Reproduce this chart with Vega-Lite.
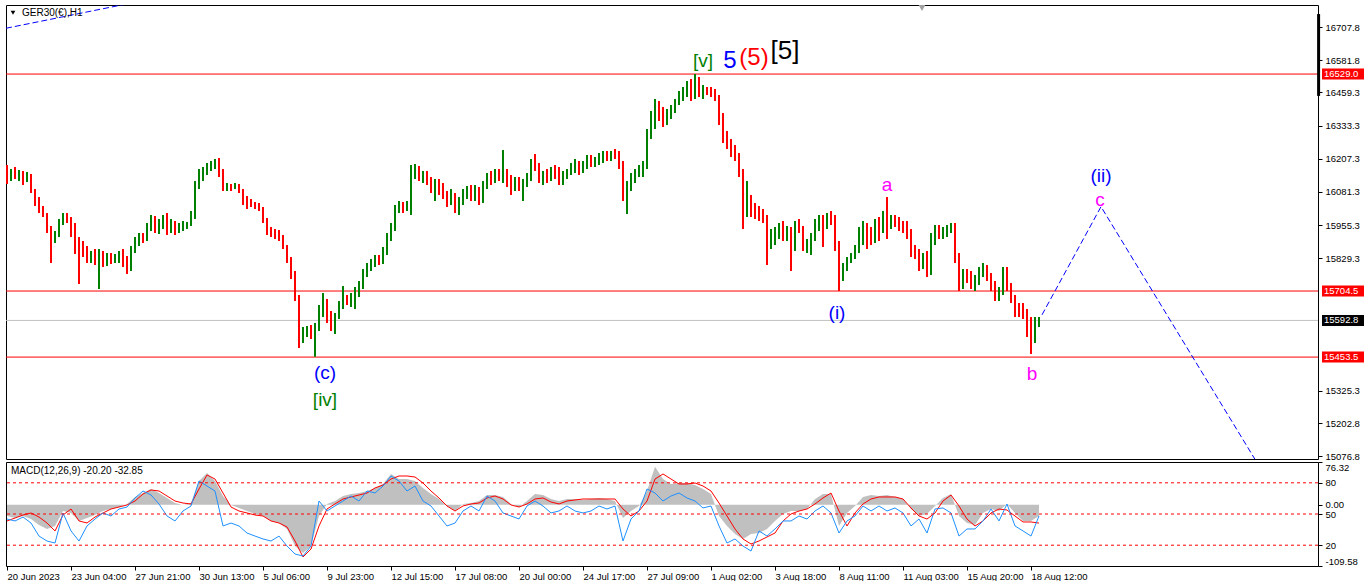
{
"$schema":"https://vega.github.io/schema/vega-lite/v6.json",
"background":"#ffffff",
"padding":{"left":4,"top":4,"right":0,"bottom":0},
"bounds":"flush",
"spacing":3,
"config":{"view":{"stroke":"#000000","strokeWidth":1},"font":"Liberation Sans","axis":{"labelFont":"Liberation Sans","labelFontSize":9.5,"labelColor":"#000000","tickColor":"#000000","domain":false,"grid":false,"tickSize":4}},
"datasets":{
"levels":[{"p":16529.0,"kind":"level"},{"p":15704.5,"kind":"level"},{"p":15453.5,"kind":"level"},{"p":15592.8,"kind":"bid"}],
"proj":[{"i":-0.25,"p":16703,"g":"up"},{"i":28.5,"p":16791,"g":"up"},{"i":40,"p":16826,"g":"up"},{"i":258.75,"p":15614,"g":"fc"},{"i":273.5,"p":16025,"g":"fc"},{"i":313,"p":15040,"g":"fc"}],
"bars":[
{"i":0,"o":16153,"h":16183,"l":16111,"c":16138},
{"i":1,"o":16138,"h":16168,"l":16123,"c":16161},
{"i":2,"o":16161,"h":16176,"l":16130,"c":16145},
{"i":3,"o":16145,"h":16164,"l":16123,"c":16153},
{"i":4,"o":16153,"h":16161,"l":16107,"c":16138},
{"i":5,"o":16138,"h":16157,"l":16119,"c":16145},
{"i":6,"o":16145,"h":16149,"l":16077,"c":16085},
{"i":7,"o":16085,"h":16092,"l":16028,"c":16039},
{"i":8,"o":16039,"h":16062,"l":16001,"c":16024},
{"i":9,"o":16024,"h":16028,"l":15986,"c":15993},
{"i":10,"o":15993,"h":16001,"l":15925,"c":15940},
{"i":11,"o":15940,"h":15952,"l":15811,"c":15910},
{"i":12,"o":15910,"h":15933,"l":15887,"c":15921},
{"i":13,"o":15921,"h":15978,"l":15910,"c":15971},
{"i":14,"o":15971,"h":16001,"l":15955,"c":15990},
{"i":15,"o":15990,"h":16001,"l":15963,"c":15978},
{"i":16,"o":15978,"h":15986,"l":15910,"c":15925},
{"i":17,"o":15925,"h":15963,"l":15845,"c":15895},
{"i":18,"o":15895,"h":15910,"l":15731,"c":15872},
{"i":19,"o":15872,"h":15895,"l":15834,"c":15857},
{"i":20,"o":15857,"h":15876,"l":15811,"c":15834},
{"i":21,"o":15834,"h":15857,"l":15811,"c":15849},
{"i":22,"o":15849,"h":15864,"l":15803,"c":15826},
{"i":23,"o":15826,"h":15864,"l":15712,"c":15834},
{"i":24,"o":15834,"h":15857,"l":15796,"c":15819},
{"i":25,"o":15819,"h":15849,"l":15800,"c":15838},
{"i":26,"o":15838,"h":15849,"l":15807,"c":15826},
{"i":27,"o":15826,"h":15845,"l":15811,"c":15834},
{"i":28,"o":15834,"h":15857,"l":15811,"c":15841},
{"i":29,"o":15841,"h":15864,"l":15796,"c":15811},
{"i":30,"o":15811,"h":15838,"l":15769,"c":15788},
{"i":31,"o":15788,"h":15876,"l":15781,"c":15864},
{"i":32,"o":15864,"h":15910,"l":15849,"c":15895},
{"i":33,"o":15895,"h":15925,"l":15876,"c":15910},
{"i":34,"o":15910,"h":15925,"l":15887,"c":15902},
{"i":35,"o":15902,"h":15963,"l":15895,"c":15952},
{"i":36,"o":15952,"h":15993,"l":15933,"c":15978},
{"i":37,"o":15978,"h":15990,"l":15925,"c":15940},
{"i":38,"o":15940,"h":15978,"l":15921,"c":15963},
{"i":39,"o":15963,"h":15993,"l":15940,"c":15978},
{"i":40,"o":15978,"h":16001,"l":15917,"c":15933},
{"i":41,"o":15933,"h":15978,"l":15925,"c":15963},
{"i":42,"o":15963,"h":15971,"l":15917,"c":15933},
{"i":43,"o":15933,"h":15963,"l":15925,"c":15948},
{"i":44,"o":15948,"h":15971,"l":15933,"c":15955},
{"i":45,"o":15955,"h":15967,"l":15940,"c":15963},
{"i":46,"o":15963,"h":16009,"l":15952,"c":15993},
{"i":47,"o":15993,"h":16123,"l":15978,"c":16107},
{"i":48,"o":16107,"h":16168,"l":16092,"c":16153},
{"i":49,"o":16153,"h":16176,"l":16123,"c":16161},
{"i":50,"o":16161,"h":16191,"l":16145,"c":16176},
{"i":51,"o":16176,"h":16199,"l":16161,"c":16183},
{"i":52,"o":16183,"h":16206,"l":16168,"c":16191},
{"i":53,"o":16191,"h":16210,"l":16138,"c":16153},
{"i":54,"o":16153,"h":16168,"l":16085,"c":16100},
{"i":55,"o":16100,"h":16115,"l":16085,"c":16107},
{"i":56,"o":16107,"h":16111,"l":16085,"c":16100},
{"i":57,"o":16100,"h":16115,"l":16092,"c":16107},
{"i":58,"o":16107,"h":16111,"l":16077,"c":16085},
{"i":59,"o":16085,"h":16092,"l":16031,"c":16054},
{"i":60,"o":16054,"h":16066,"l":16016,"c":16039},
{"i":61,"o":16039,"h":16054,"l":16024,"c":16035},
{"i":62,"o":16035,"h":16043,"l":16016,"c":16028},
{"i":63,"o":16028,"h":16039,"l":16009,"c":16016},
{"i":64,"o":16016,"h":16024,"l":15963,"c":15978},
{"i":65,"o":15978,"h":15982,"l":15917,"c":15933},
{"i":66,"o":15933,"h":15948,"l":15910,"c":15925},
{"i":67,"o":15925,"h":15940,"l":15902,"c":15917},
{"i":68,"o":15917,"h":15936,"l":15895,"c":15910},
{"i":69,"o":15910,"h":15917,"l":15864,"c":15872},
{"i":70,"o":15872,"h":15879,"l":15811,"c":15826},
{"i":71,"o":15826,"h":15834,"l":15750,"c":15773},
{"i":72,"o":15773,"h":15781,"l":15667,"c":15682},
{"i":73,"o":15682,"h":15689,"l":15488,"c":15522},
{"i":74,"o":15522,"h":15568,"l":15507,"c":15553},
{"i":75,"o":15553,"h":15572,"l":15530,"c":15560},
{"i":76,"o":15560,"h":15575,"l":15522,"c":15537},
{"i":77,"o":15537,"h":15583,"l":15455,"c":15568},
{"i":78,"o":15568,"h":15651,"l":15553,"c":15636},
{"i":79,"o":15636,"h":15697,"l":15606,"c":15651},
{"i":80,"o":15651,"h":15674,"l":15583,"c":15598},
{"i":81,"o":15598,"h":15629,"l":15553,"c":15568},
{"i":82,"o":15568,"h":15621,"l":15541,"c":15610},
{"i":83,"o":15610,"h":15667,"l":15598,"c":15651},
{"i":84,"o":15651,"h":15724,"l":15636,"c":15674},
{"i":85,"o":15674,"h":15689,"l":15651,"c":15667},
{"i":86,"o":15667,"h":15697,"l":15644,"c":15682},
{"i":87,"o":15682,"h":15720,"l":15636,"c":15705},
{"i":88,"o":15705,"h":15743,"l":15682,"c":15727},
{"i":89,"o":15727,"h":15788,"l":15712,"c":15773},
{"i":90,"o":15773,"h":15811,"l":15758,"c":15796},
{"i":91,"o":15796,"h":15826,"l":15781,"c":15811},
{"i":92,"o":15811,"h":15841,"l":15796,"c":15826},
{"i":93,"o":15826,"h":15841,"l":15803,"c":15819},
{"i":94,"o":15819,"h":15872,"l":15807,"c":15857},
{"i":95,"o":15857,"h":15925,"l":15841,"c":15910},
{"i":96,"o":15910,"h":15963,"l":15895,"c":15948},
{"i":97,"o":15948,"h":16031,"l":15933,"c":16016},
{"i":98,"o":16016,"h":16047,"l":16001,"c":16031},
{"i":99,"o":16031,"h":16043,"l":16001,"c":16020},
{"i":100,"o":16020,"h":16047,"l":16009,"c":16035},
{"i":101,"o":16035,"h":16183,"l":15993,"c":16153},
{"i":102,"o":16153,"h":16187,"l":16130,"c":16168},
{"i":103,"o":16168,"h":16180,"l":16123,"c":16138},
{"i":104,"o":16138,"h":16161,"l":16115,"c":16145},
{"i":105,"o":16145,"h":16161,"l":16107,"c":16123},
{"i":106,"o":16123,"h":16138,"l":16077,"c":16092},
{"i":107,"o":16092,"h":16130,"l":16047,"c":16107},
{"i":108,"o":16107,"h":16130,"l":16069,"c":16085},
{"i":109,"o":16085,"h":16115,"l":16054,"c":16069},
{"i":110,"o":16069,"h":16085,"l":16024,"c":16047},
{"i":111,"o":16047,"h":16092,"l":16031,"c":16062},
{"i":112,"o":16062,"h":16077,"l":16001,"c":16024},
{"i":113,"o":16024,"h":16062,"l":15993,"c":16047},
{"i":114,"o":16047,"h":16092,"l":16031,"c":16077},
{"i":115,"o":16077,"h":16104,"l":16054,"c":16092},
{"i":116,"o":16092,"h":16107,"l":16047,"c":16062},
{"i":117,"o":16062,"h":16107,"l":16047,"c":16092},
{"i":118,"o":16092,"h":16100,"l":16031,"c":16054},
{"i":119,"o":16054,"h":16123,"l":16039,"c":16107},
{"i":120,"o":16107,"h":16153,"l":16092,"c":16138},
{"i":121,"o":16138,"h":16161,"l":16107,"c":16130},
{"i":122,"o":16130,"h":16168,"l":16115,"c":16145},
{"i":123,"o":16145,"h":16168,"l":16123,"c":16138},
{"i":124,"o":16138,"h":16240,"l":16115,"c":16153},
{"i":125,"o":16153,"h":16168,"l":16100,"c":16123},
{"i":126,"o":16123,"h":16145,"l":16069,"c":16107},
{"i":127,"o":16107,"h":16138,"l":16085,"c":16123},
{"i":128,"o":16123,"h":16138,"l":16085,"c":16100},
{"i":129,"o":16100,"h":16130,"l":16047,"c":16115},
{"i":130,"o":16115,"h":16153,"l":16100,"c":16138},
{"i":131,"o":16138,"h":16206,"l":16123,"c":16191},
{"i":132,"o":16191,"h":16225,"l":16161,"c":16176},
{"i":133,"o":16176,"h":16191,"l":16115,"c":16130},
{"i":134,"o":16130,"h":16161,"l":16107,"c":16145},
{"i":135,"o":16145,"h":16168,"l":16115,"c":16138},
{"i":136,"o":16138,"h":16176,"l":16123,"c":16161},
{"i":137,"o":16161,"h":16183,"l":16130,"c":16145},
{"i":138,"o":16145,"h":16176,"l":16107,"c":16123},
{"i":139,"o":16123,"h":16161,"l":16107,"c":16153},
{"i":140,"o":16153,"h":16168,"l":16130,"c":16161},
{"i":141,"o":16161,"h":16191,"l":16145,"c":16176},
{"i":142,"o":16176,"h":16206,"l":16153,"c":16183},
{"i":143,"o":16183,"h":16199,"l":16145,"c":16168},
{"i":144,"o":16168,"h":16199,"l":16153,"c":16191},
{"i":145,"o":16191,"h":16221,"l":16168,"c":16206},
{"i":146,"o":16206,"h":16221,"l":16176,"c":16191},
{"i":147,"o":16191,"h":16214,"l":16176,"c":16206},
{"i":148,"o":16206,"h":16229,"l":16183,"c":16214},
{"i":149,"o":16214,"h":16237,"l":16191,"c":16221},
{"i":150,"o":16221,"h":16237,"l":16199,"c":16214},
{"i":151,"o":16214,"h":16237,"l":16199,"c":16229},
{"i":152,"o":16229,"h":16244,"l":16206,"c":16221},
{"i":153,"o":16221,"h":16237,"l":16168,"c":16183},
{"i":154,"o":16183,"h":16199,"l":16047,"c":16077},
{"i":155,"o":16077,"h":16123,"l":15997,"c":16100},
{"i":156,"o":16100,"h":16153,"l":16085,"c":16138},
{"i":157,"o":16138,"h":16168,"l":16115,"c":16153},
{"i":158,"o":16153,"h":16183,"l":16138,"c":16161},
{"i":159,"o":16161,"h":16199,"l":16138,"c":16183},
{"i":160,"o":16183,"h":16320,"l":16168,"c":16297},
{"i":161,"o":16297,"h":16389,"l":16282,"c":16366},
{"i":162,"o":16366,"h":16434,"l":16320,"c":16411},
{"i":163,"o":16411,"h":16427,"l":16351,"c":16381},
{"i":164,"o":16381,"h":16404,"l":16328,"c":16351},
{"i":165,"o":16351,"h":16396,"l":16335,"c":16381},
{"i":166,"o":16381,"h":16411,"l":16358,"c":16396},
{"i":167,"o":16396,"h":16434,"l":16381,"c":16427},
{"i":168,"o":16427,"h":16465,"l":16411,"c":16449},
{"i":169,"o":16449,"h":16480,"l":16427,"c":16465},
{"i":170,"o":16465,"h":16503,"l":16442,"c":16487},
{"i":171,"o":16487,"h":16510,"l":16427,"c":16442},
{"i":172,"o":16442,"h":16529,"l":16434,"c":16503},
{"i":173,"o":16503,"h":16518,"l":16442,"c":16457},
{"i":174,"o":16457,"h":16487,"l":16434,"c":16472},
{"i":175,"o":16472,"h":16480,"l":16449,"c":16465},
{"i":176,"o":16465,"h":16480,"l":16442,"c":16457},
{"i":177,"o":16457,"h":16472,"l":16427,"c":16442},
{"i":178,"o":16442,"h":16449,"l":16335,"c":16358},
{"i":179,"o":16358,"h":16381,"l":16267,"c":16290},
{"i":180,"o":16290,"h":16313,"l":16244,"c":16275},
{"i":181,"o":16275,"h":16282,"l":16214,"c":16237},
{"i":182,"o":16237,"h":16259,"l":16199,"c":16214},
{"i":183,"o":16214,"h":16229,"l":16138,"c":16161},
{"i":184,"o":16161,"h":16168,"l":15940,"c":16001},
{"i":185,"o":16001,"h":16123,"l":15986,"c":16062},
{"i":186,"o":16062,"h":16069,"l":15986,"c":16016},
{"i":187,"o":16016,"h":16039,"l":15978,"c":16001},
{"i":188,"o":16001,"h":16028,"l":15971,"c":15993},
{"i":189,"o":15993,"h":16016,"l":15963,"c":15978},
{"i":190,"o":15978,"h":15993,"l":15803,"c":15895},
{"i":191,"o":15895,"h":15940,"l":15864,"c":15910},
{"i":192,"o":15910,"h":15948,"l":15879,"c":15925},
{"i":193,"o":15925,"h":15963,"l":15902,"c":15948},
{"i":194,"o":15948,"h":15971,"l":15895,"c":15917},
{"i":195,"o":15917,"h":15952,"l":15895,"c":15933},
{"i":196,"o":15933,"h":15948,"l":15781,"c":15879},
{"i":197,"o":15879,"h":15971,"l":15857,"c":15948},
{"i":198,"o":15948,"h":15978,"l":15925,"c":15940},
{"i":199,"o":15940,"h":15952,"l":15857,"c":15879},
{"i":200,"o":15879,"h":15902,"l":15849,"c":15887},
{"i":201,"o":15887,"h":15925,"l":15841,"c":15910},
{"i":202,"o":15910,"h":15978,"l":15895,"c":15963},
{"i":203,"o":15963,"h":15993,"l":15933,"c":15971},
{"i":204,"o":15971,"h":15993,"l":15872,"c":15955},
{"i":205,"o":15955,"h":16001,"l":15940,"c":15986},
{"i":206,"o":15986,"h":16009,"l":15955,"c":15978},
{"i":207,"o":15978,"h":15993,"l":15857,"c":15879},
{"i":208,"o":15879,"h":15895,"l":15705,"c":15758},
{"i":209,"o":15758,"h":15811,"l":15743,"c":15796},
{"i":210,"o":15796,"h":15834,"l":15781,"c":15826},
{"i":211,"o":15826,"h":15849,"l":15811,"c":15841},
{"i":212,"o":15841,"h":15879,"l":15826,"c":15864},
{"i":213,"o":15864,"h":15948,"l":15849,"c":15933},
{"i":214,"o":15933,"h":15971,"l":15879,"c":15940},
{"i":215,"o":15940,"h":15963,"l":15864,"c":15917},
{"i":216,"o":15917,"h":15948,"l":15879,"c":15910},
{"i":217,"o":15910,"h":15978,"l":15887,"c":15955},
{"i":218,"o":15955,"h":15986,"l":15895,"c":15940},
{"i":219,"o":15940,"h":16009,"l":15925,"c":15993},
{"i":220,"o":15993,"h":16062,"l":15902,"c":15963},
{"i":221,"o":15963,"h":15993,"l":15940,"c":15978},
{"i":222,"o":15978,"h":15993,"l":15948,"c":15963},
{"i":223,"o":15963,"h":15986,"l":15933,"c":15955},
{"i":224,"o":15955,"h":15971,"l":15925,"c":15948},
{"i":225,"o":15948,"h":15971,"l":15902,"c":15917},
{"i":226,"o":15917,"h":15940,"l":15834,"c":15857},
{"i":227,"o":15857,"h":15879,"l":15826,"c":15849},
{"i":228,"o":15849,"h":15864,"l":15781,"c":15811},
{"i":229,"o":15811,"h":15849,"l":15788,"c":15834},
{"i":230,"o":15834,"h":15857,"l":15758,"c":15781},
{"i":231,"o":15781,"h":15925,"l":15765,"c":15910},
{"i":232,"o":15910,"h":15955,"l":15879,"c":15940},
{"i":233,"o":15940,"h":15955,"l":15902,"c":15917},
{"i":234,"o":15917,"h":15948,"l":15902,"c":15933},
{"i":235,"o":15933,"h":15955,"l":15910,"c":15940},
{"i":236,"o":15940,"h":15963,"l":15925,"c":15948},
{"i":237,"o":15948,"h":15963,"l":15811,"c":15826},
{"i":238,"o":15826,"h":15849,"l":15705,"c":15735},
{"i":239,"o":15735,"h":15788,"l":15712,"c":15773},
{"i":240,"o":15773,"h":15788,"l":15735,"c":15750},
{"i":241,"o":15750,"h":15781,"l":15712,"c":15727},
{"i":242,"o":15727,"h":15765,"l":15705,"c":15743},
{"i":243,"o":15743,"h":15796,"l":15727,"c":15781},
{"i":244,"o":15781,"h":15811,"l":15758,"c":15796},
{"i":245,"o":15796,"h":15803,"l":15743,"c":15758},
{"i":246,"o":15758,"h":15773,"l":15705,"c":15720},
{"i":247,"o":15720,"h":15743,"l":15667,"c":15689},
{"i":248,"o":15689,"h":15720,"l":15667,"c":15705},
{"i":249,"o":15705,"h":15796,"l":15689,"c":15773},
{"i":250,"o":15773,"h":15796,"l":15705,"c":15720},
{"i":251,"o":15720,"h":15735,"l":15659,"c":15674},
{"i":252,"o":15674,"h":15689,"l":15606,"c":15636},
{"i":253,"o":15636,"h":15659,"l":15606,"c":15629},
{"i":254,"o":15629,"h":15659,"l":15598,"c":15621},
{"i":255,"o":15621,"h":15636,"l":15530,"c":15560},
{"i":256,"o":15560,"h":15606,"l":15465,"c":15515},
{"i":257,"o":15515,"h":15606,"l":15507,"c":15583},
{"i":258,"o":15583,"h":15606,"l":15568,"c":15592.8}
],
"ind":[
{"i":0,"m":-20.2,"s":-29.1,"b":45.2},{"i":2,"m":-23.8,"s":-23.8,"b":43.3},{"i":4,"m":-20.2,"s":-18.4,"b":47.1},{"i":6,"m":-25.6,"s":-14.8,"b":41.3},{"i":8,"m":-36.3,"s":-22.0,"b":28.8},{"i":10,"m":-43.4,"s":-32.7,"b":24.0},{"i":12,"m":-38.1,"s":-47.0,"b":22.1},{"i":14,"m":-11.3,"s":-18.4,"b":51.0},{"i":16,"m":-14.8,"s":-7.7,"b":33.7},{"i":18,"m":-29.1,"s":-29.1,"b":24.0},
{"i":20,"m":-23.8,"s":-32.7,"b":38.5},{"i":22,"m":-18.4,"s":-22.0,"b":45.2},{"i":24,"m":-11.3,"s":-14.8,"b":51.0},{"i":26,"m":-7.7,"s":-7.7,"b":48.1},{"i":28,"m":-4.1,"s":-4.1,"b":54.8},{"i":30,"m":1.3,"s":-0.5,"b":56.7},{"i":32,"m":13.8,"s":6.6,"b":65.4},{"i":34,"m":20.9,"s":19.1,"b":72.1},{"i":36,"m":28.1,"s":26.3,"b":68.3},{"i":38,"m":20.9,"s":24.5,"b":59.6},
{"i":40,"m":12.0,"s":15.6,"b":48.1},{"i":42,"m":3.0,"s":6.6,"b":43.3},{"i":44,"m":-0.5,"s":3.0,"b":52.9},{"i":46,"m":3.0,"s":1.3,"b":57.7},{"i":48,"m":42.4,"s":28.1,"b":81.7},{"i":50,"m":56.7,"s":53.1,"b":76.9},{"i":52,"m":42.4,"s":45.9,"b":72.1},{"i":54,"m":15.6,"s":20.9,"b":38.5},{"i":56,"m":-0.5,"s":-4.1,"b":41.3},{"i":58,"m":-5.9,"s":-11.3,"b":38.5},
{"i":60,"m":-11.3,"s":-14.8,"b":31.7},{"i":62,"m":-16.6,"s":-18.4,"b":28.8},{"i":64,"m":-20.2,"s":-20.2,"b":26.0},{"i":66,"m":-29.1,"s":-29.1,"b":24.0},{"i":68,"m":-32.7,"s":-32.7,"b":28.8},{"i":70,"m":-43.4,"s":-39.9,"b":19.2},{"i":72,"m":-73.8,"s":-64.9,"b":11.5},{"i":74,"m":-86.3,"s":-93.5,"b":9.6},{"i":76,"m":-73.8,"s":-79.2,"b":19.2},{"i":78,"m":-20.2,"s":-38.1,"b":62.5},
{"i":80,"m":1.3,"s":-7.7,"b":52.9},{"i":82,"m":6.6,"s":1.3,"b":57.7},{"i":84,"m":15.6,"s":10.2,"b":62.5},{"i":86,"m":19.1,"s":13.8,"b":67.3},{"i":88,"m":20.9,"s":17.3,"b":62.5},{"i":90,"m":24.5,"s":20.9,"b":72.1},{"i":92,"m":29.9,"s":29.9,"b":70.2},{"i":94,"m":37.0,"s":35.2,"b":76.9},{"i":96,"m":54.9,"s":45.9,"b":86.5},{"i":98,"m":45.9,"s":51.3,"b":81.7},
{"i":100,"m":45.9,"s":51.3,"b":72.1},{"i":102,"m":42.4,"s":49.5,"b":76.9},{"i":104,"m":29.9,"s":38.8,"b":62.5},{"i":106,"m":19.1,"s":24.5,"b":57.7},{"i":108,"m":10.2,"s":12.0,"b":48.1},{"i":110,"m":-2.3,"s":-2.3,"b":38.5},{"i":112,"m":-11.3,"s":-11.3,"b":41.3},{"i":114,"m":1.3,"s":-2.3,"b":52.9},{"i":116,"m":3.0,"s":1.3,"b":57.7},{"i":118,"m":6.6,"s":3.0,"b":52.9},
{"i":120,"m":17.3,"s":12.0,"b":67.3},{"i":122,"m":17.3,"s":15.6,"b":62.5},{"i":124,"m":13.8,"s":10.2,"b":51.0},{"i":126,"m":1.3,"s":-0.5,"b":48.1},{"i":128,"m":-4.1,"s":-4.1,"b":45.2},{"i":130,"m":6.6,"s":1.3,"b":57.7},{"i":132,"m":19.1,"s":10.2,"b":62.5},{"i":134,"m":17.3,"s":12.0,"b":57.7},{"i":136,"m":10.2,"s":4.8,"b":51.0},{"i":138,"m":6.6,"s":1.3,"b":52.9},
{"i":140,"m":10.2,"s":6.6,"b":57.7},{"i":142,"m":10.2,"s":8.4,"b":52.9},{"i":144,"m":8.4,"s":10.2,"b":51.0},{"i":146,"m":10.2,"s":10.2,"b":52.9},{"i":148,"m":12.0,"s":10.2,"b":57.7},{"i":150,"m":10.2,"s":10.2,"b":54.8},{"i":152,"m":6.6,"s":10.2,"b":57.7},{"i":154,"m":-23.8,"s":-7.7,"b":24.0},{"i":156,"m":-11.3,"s":-20.2,"b":45.2},{"i":158,"m":-2.3,"s":-11.3,"b":52.9},
{"i":160,"m":24.5,"s":6.6,"b":74.0},{"i":162,"m":68.0,"s":45.9,"b":70.2},{"i":164,"m":45.9,"s":54.9,"b":62.5},{"i":166,"m":37.0,"s":45.9,"b":67.3},{"i":168,"m":38.8,"s":37.0,"b":70.2},{"i":170,"m":38.8,"s":37.0,"b":65.4},{"i":172,"m":35.2,"s":38.8,"b":62.5},{"i":174,"m":28.1,"s":33.4,"b":55.8},{"i":176,"m":19.1,"s":24.5,"b":57.7},{"i":178,"m":-20.2,"s":3.0,"b":38.5},
{"i":180,"m":-38.1,"s":-20.2,"b":22.1},{"i":182,"m":-52.4,"s":-43.4,"b":26.0},{"i":184,"m":-61.3,"s":-61.3,"b":19.2},{"i":186,"m":-52.4,"s":-70.2,"b":14.4},{"i":188,"m":-50.6,"s":-64.9,"b":33.7},{"i":190,"m":-43.4,"s":-57.7,"b":28.8},{"i":192,"m":-29.1,"s":-50.6,"b":35.6},{"i":194,"m":-16.6,"s":-29.1,"b":43.3},{"i":196,"m":-11.3,"s":-16.6,"b":43.3},{"i":198,"m":-11.3,"s":-11.3,"b":48.1},
{"i":200,"m":-7.7,"s":-7.7,"b":45.2},{"i":202,"m":10.2,"s":1.3,"b":52.9},{"i":204,"m":19.1,"s":12.0,"b":57.7},{"i":206,"m":19.1,"s":20.9,"b":51.0},{"i":208,"m":-38.1,"s":-11.3,"b":31.7},{"i":210,"m":-14.8,"s":-38.1,"b":43.3},{"i":212,"m":-2.3,"s":-14.8,"b":48.1},{"i":214,"m":13.8,"s":1.3,"b":57.7},{"i":216,"m":17.3,"s":10.2,"b":52.9},{"i":218,"m":15.6,"s":13.8,"b":57.7},
{"i":220,"m":17.3,"s":13.8,"b":52.9},{"i":222,"m":13.8,"s":13.8,"b":55.8},{"i":224,"m":10.2,"s":10.2,"b":51.0},{"i":226,"m":-7.7,"s":-5.9,"b":38.5},{"i":228,"m":-20.2,"s":-20.2,"b":45.2},{"i":230,"m":-16.6,"s":-25.6,"b":31.7},{"i":232,"m":-2.3,"s":-14.8,"b":54.8},{"i":234,"m":12.0,"s":6.6,"b":55.8},{"i":236,"m":19.1,"s":17.3,"b":51.0},{"i":238,"m":-20.2,"s":-2.3,"b":28.8},
{"i":240,"m":-32.7,"s":-25.6,"b":35.6},{"i":242,"m":-36.3,"s":-38.1,"b":35.6},{"i":244,"m":-14.8,"s":-29.1,"b":43.3},{"i":246,"m":-7.7,"s":-14.8,"b":54.8},{"i":248,"m":-11.3,"s":-7.7,"b":43.3},{"i":250,"m":1.3,"s":-9.5,"b":59.6},{"i":252,"m":-14.8,"s":-20.2,"b":38.5},{"i":254,"m":-29.1,"s":-30.9,"b":33.7},{"i":256,"m":-29.1,"s":-30.9,"b":28.8},{"i":258,"m":-20.2,"s":-32.85,"b":48.1}
]
},
"vconcat":[
{
"width":1312,"height":454,
"layer":[
{"data":{"name":"levels"},"mark":{"type":"rule","strokeWidth":1},
 "encoding":{"y":{"field":"p","type":"quantitative","title":null,"scale":{"domain":[15066.2,16791.4],"nice":false,"zero":false,"padding":0},
   "axis":{"orient":"right","title":null,"values":[16707.8,16581.8,16459.3,16333.3,16207.3,16081.3,15955.3,15829.3,15325.3,15202.8,15076.8],"format":".1f","labelPadding":3}},
  "color":{"condition":{"test":"datum.kind==='bid'","value":"#c0c0c0"},"value":"#ff0000"}}},
{"data":{"name":"proj"},"mark":{"type":"line","color":"#0000ff","strokeWidth":1,"strokeDash":[6,3],"clip":true},
 "encoding":{"x":{"field":"i","type":"quantitative","title":null,"scale":{"domain":[-0.25,327.75],"nice":false,"zero":false,"padding":0},"axis":null},
  "y":{"field":"p","type":"quantitative","title":null},"detail":{"field":"g"}}},
{"data":{"name":"bars"},"mark":{"type":"rule","strokeWidth":2},
 "encoding":{"x":{"field":"i","type":"quantitative","axis":null},"y":{"field":"h","type":"quantitative","title":null},"y2":{"field":"l"},
  "color":{"condition":{"test":"datum.c>=datum.o","value":"#008000"},"value":"#ff0000"}}},
{"data":{"values":[{"t":"[v]","i":174,"p":16579,"deg":"minute"},{"t":"(c)","i":79.5,"p":15393,"deg":"minor"},{"t":"[iv]","i":79.5,"p":15290,"deg":"minute"},{"t":"(i)","i":207.5,"p":15621,"deg":"minor"},{"t":"(ii)","i":273.5,"p":16142,"deg":"minor"},{"t":"a","i":220,"p":16107,"deg":"minuette"},{"t":"b","i":256.25,"p":15389,"deg":"minuette"},{"t":"c","i":273.25,"p":16050,"deg":"minuette"}]},
 "mark":{"type":"text","fontSize":19,"baseline":"middle","align":"center"},
 "encoding":{"x":{"field":"i","type":"quantitative","axis":null},"y":{"field":"p","type":"quantitative","title":null},"text":{"field":"t"},
  "color":{"field":"deg","type":"nominal","legend":null,"scale":{"domain":["minute","minor","intermediate","primary","minuette"],"range":["#008000","#0000ff","#ff0000","#000000","#ff00ff"]}}}},
{"data":{"values":[{"t":"5","i":180.75,"p":16579,"deg":"minor"},{"t":"(5)","i":186.75,"p":16590,"deg":"intermediate"}]},
 "mark":{"type":"text","fontSize":24,"baseline":"middle","align":"center"},
 "encoding":{"x":{"field":"i","type":"quantitative","axis":null},"y":{"field":"p","type":"quantitative","title":null},"text":{"field":"t"},
  "color":{"field":"deg","type":"nominal","legend":null}}},
{"data":{"values":[{"t":"[5]","i":194.5,"p":16617,"deg":"primary"}]},
 "mark":{"type":"text","fontSize":26,"baseline":"middle","align":"center"},
 "encoding":{"x":{"field":"i","type":"quantitative","axis":null},"y":{"field":"p","type":"quantitative","title":null},"text":{"field":"t"},
  "color":{"field":"deg","type":"nominal","legend":null}}},
{"data":{"name":"levels"},"mark":{"type":"bar","height":11},
 "encoding":{"x":{"datum":328.75,"type":"quantitative","axis":null},"x2":{"datum":339.25},"y":{"field":"p","type":"quantitative","title":null},
  "color":{"condition":{"test":"datum.kind==='bid'","value":"#000000"},"value":"#ff0000"}}},
{"data":{"name":"levels"},"mark":{"type":"text","align":"left","baseline":"middle","color":"#ffffff","fontSize":9.5},
 "encoding":{"x":{"datum":329.25,"type":"quantitative","axis":null},"y":{"field":"p","type":"quantitative","title":null},"text":{"field":"p","type":"quantitative","format":".1f"}}},
{"data":{"values":[{}]},"mark":{"type":"rule","strokeWidth":3,"color":"#000000"},
 "encoding":{"x":{"datum":327.9,"type":"quantitative","axis":null},"y":{"datum":16757,"type":"quantitative"},"y2":{"datum":16446}}},
{"data":{"values":[{}]},"mark":{"type":"point","shape":"triangle-down","filled":true,"color":"#a0a0a0","size":45,"opacity":1},
 "encoding":{"x":{"datum":228.75,"type":"quantitative","axis":null},"y":{"datum":16780,"type":"quantitative"}}},
{"data":{"values":[{}]},"mark":{"type":"point","shape":"triangle-down","filled":true,"color":"#000000","size":22,"opacity":1},
 "encoding":{"x":{"datum":1.5,"type":"quantitative","axis":null},"y":{"datum":16762,"type":"quantitative"}}},
{"data":{"values":[{"t":"GER30(€),H1"}]},"mark":{"type":"text","align":"left","baseline":"middle","fontSize":10,"color":"#000000"},
 "encoding":{"x":{"datum":3.75,"type":"quantitative","axis":null},"y":{"datum":16761,"type":"quantitative"},"text":{"field":"t"}}}
]
},
{
"width":1312,"height":104,
"layer":[
{"layer":[
 {"data":{"name":"ind"},"mark":{"type":"area","color":"#c0c0c0","opacity":1},
  "encoding":{"x":{"field":"i","type":"quantitative","title":null,"scale":{"domain":[-0.25,327.75],"nice":false,"zero":false,"padding":0},
    "axis":{"orient":"bottom","title":null,"values":[0,16,32,48,64,80,96,112,128,144,160,176,192,208,224,240,256],
     "labelExpr":"['20 Jun 2023','23 Jun 04:00','27 Jun 21:00','30 Jun 13:00','5 Jul 06:00','9 Jul 23:00','12 Jul 15:00','17 Jul 08:00','20 Jul 00:00','24 Jul 17:00','27 Jul 09:00','1 Aug 02:00','3 Aug 18:00','8 Aug 11:00','11 Aug 03:00','15 Aug 20:00','18 Aug 12:00'][round(datum.value/16)]",
     "labelAlign":"left","labelPadding":1,"labelOverlap":false,"labelFlush":false,"labelBound":false}},
   "y":{"field":"m","type":"quantitative","title":null,"scale":{"domain":[-109.58,76.32],"nice":false,"zero":false,"padding":0},
    "axis":{"orient":"right","title":null,"values":[76.32,0,-109.58],"labelExpr":"datum.value < 0 ? '-' + format(-datum.value, '.2f') : format(datum.value, '.2f')","labelFlush":true,"labelPadding":3}},
   "y2":{"datum":0}}},
 {"data":{"name":"ind"},"mark":{"type":"line","color":"#ff0000","strokeWidth":1},
  "encoding":{"x":{"field":"i","type":"quantitative"},"y":{"field":"s","type":"quantitative","title":null}}},
 {"data":{"values":[{"t":"MACD(12,26,9) -20.20 -32.85"}]},"mark":{"type":"text","align":"left","baseline":"middle","fontSize":10,"color":"#000000"},
  "encoding":{"x":{"datum":1,"type":"quantitative"},"y":{"datum":60.2,"type":"quantitative"},"text":{"field":"t"}}}
]},
{"layer":[
 {"data":{"name":"ind"},"mark":{"type":"line","color":"#1e90ff","strokeWidth":1},
  "encoding":{"x":{"field":"i","type":"quantitative"},"y":{"field":"b","type":"quantitative","title":null,"scale":{"domain":[0,100],"nice":false,"zero":false,"padding":0},
   "axis":{"orient":"right","title":null,"values":[80,50,20],"format":"d","labelPadding":3}}}},
 {"data":{"values":[{"lv":80},{"lv":50},{"lv":20}]},"mark":{"type":"rule","color":"#ff0000","strokeWidth":1,"strokeDash":[3,3]},
  "encoding":{"y":{"field":"lv","type":"quantitative","title":null}}}
]}
],
"resolve":{"scale":{"y":"independent"}}
}
]
}
